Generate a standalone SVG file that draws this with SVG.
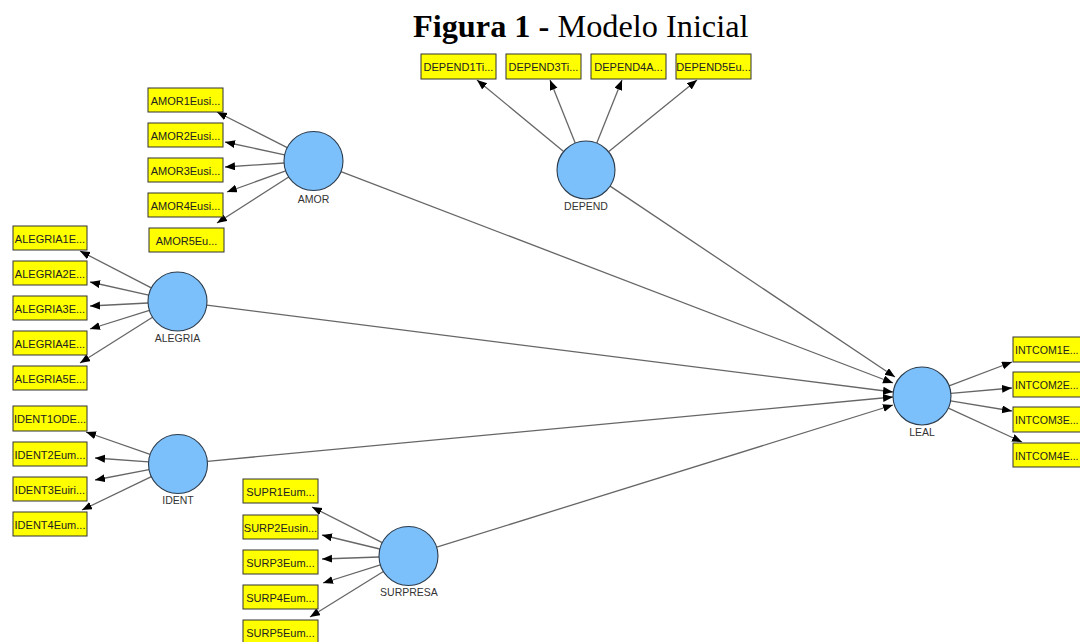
<svg xmlns="http://www.w3.org/2000/svg" width="1080" height="642" viewBox="0 0 1080 642">
<style>
.box{fill:#ffff00;stroke:#333;stroke-width:1}
.bt{font-family:"Liberation Sans",Arial,sans-serif;font-size:11px;fill:#222;text-anchor:middle}
.bs{font-family:"Liberation Sans",Arial,sans-serif;font-size:10.6px;fill:#222}
.lv{fill:#7bbffb;stroke:#2b3b4b;stroke-width:1.1}
.lb{font-family:"Liberation Sans",Arial,sans-serif;font-size:10.5px;fill:#333;text-anchor:middle}
.ln{stroke:#666;stroke-width:1.3;fill:none;marker-end:url(#ah)}
.ti{font-family:"Liberation Serif","Times New Roman",serif;font-size:32.3px;fill:#000}
</style>
<defs>
<marker id="ah" markerUnits="userSpaceOnUse" markerWidth="11" markerHeight="9" refX="10" refY="4" orient="auto">
<path d="M0,0 L10,4 L0,8 z" fill="#000"/>
</marker>
</defs>
<rect width="1080" height="642" fill="#fff"/>
<text class="ti" x="413" y="37"><tspan font-weight="bold">Figura 1 -</tspan> Modelo Inicial</text>

<g id="connectors">
<line class="ln" x1="563.6" y1="151.5" x2="477" y2="80"/>
<line class="ln" x1="575.2" y1="143.1" x2="550" y2="80"/>
<line class="ln" x1="596.8" y1="143.1" x2="622" y2="80"/>
<line class="ln" x1="608.5" y1="151.7" x2="697" y2="80"/>
<line class="ln" x1="287.2" y1="147.6" x2="217" y2="112"/>
<line class="ln" x1="284.6" y1="154.8" x2="225" y2="142"/>
<line class="ln" x1="284.1" y1="163" x2="225" y2="167"/>
<line class="ln" x1="285.7" y1="170.9" x2="227" y2="192"/>
<line class="ln" x1="288.7" y1="177" x2="217" y2="223"/>
<line class="ln" x1="151.3" y1="287.9" x2="80" y2="251"/>
<line class="ln" x1="148.7" y1="295.1" x2="90" y2="282"/>
<line class="ln" x1="148" y1="303" x2="90" y2="306"/>
<line class="ln" x1="149.4" y1="310.3" x2="90" y2="329"/>
<line class="ln" x1="152.5" y1="317.2" x2="80" y2="363"/>
<line class="ln" x1="150.1" y1="454.3" x2="86" y2="432"/>
<line class="ln" x1="148.6" y1="461.9" x2="95" y2="458"/>
<line class="ln" x1="149" y1="469.6" x2="95" y2="480"/>
<line class="ln" x1="151.4" y1="476.7" x2="82" y2="510"/>
<line class="ln" x1="382.2" y1="542.6" x2="312" y2="507"/>
<line class="ln" x1="379.8" y1="549" x2="322" y2="535"/>
<line class="ln" x1="379" y1="557" x2="322" y2="559"/>
<line class="ln" x1="380.4" y1="564.9" x2="323" y2="583"/>
<line class="ln" x1="383.4" y1="571.5" x2="310" y2="617"/>
<line class="ln" x1="949.1" y1="385.8" x2="1012" y2="362"/>
<line class="ln" x1="950.9" y1="393.4" x2="1012" y2="388"/>
<line class="ln" x1="950.6" y1="400.8" x2="1012" y2="411"/>
<line class="ln" x1="948.4" y1="408.1" x2="1022" y2="442"/>
<line class="ln" x1="610.1" y1="186.1" x2="895" y2="377"/>
<line class="ln" x1="341" y1="171.6" x2="893" y2="383"/>
<line class="ln" x1="206.8" y1="305.2" x2="893" y2="392"/>
<line class="ln" x1="207.4" y1="461.3" x2="893" y2="397"/>
<line class="ln" x1="436.7" y1="547.2" x2="893" y2="405"/>
</g>

<g id="DEPEND">
<circle class="lv" cx="586" cy="170" r="29"/>
<text class="lb" x="586" y="210">DEPEND</text>
</g>
<g id="DEPEND1"><rect class="box" x="421" y="54" width="75" height="25"/><text class="bt" x="458.5" y="71">DEPEND1Ti...</text></g>
<g id="DEPEND3"><rect class="box" x="506" y="54" width="75" height="25"/><text class="bt" x="543.5" y="71">DEPEND3Ti...</text></g>
<g id="DEPEND4"><rect class="box" x="591" y="54" width="75" height="25"/><text class="bt" x="628.5" y="71">DEPEND4A...</text></g>
<g id="DEPEND5"><rect class="box" x="676" y="54" width="75" height="25"/><text class="bt" x="713.5" y="71">DEPEND5Eu...</text></g>

<g id="AMOR">
<circle class="lv" cx="313.5" cy="161" r="29.5"/>
<text class="lb" x="313.5" y="203">AMOR</text>
</g>
<g id="AMOR1"><rect class="box" x="148" y="88" width="75" height="24"/><text class="bt" x="185.5" y="104.5">AMOR1Eusi...</text></g>
<g id="AMOR2"><rect class="box" x="148" y="123" width="75" height="24"/><text class="bt" x="185.5" y="139.5">AMOR2Eusi...</text></g>
<g id="AMOR3"><rect class="box" x="148" y="158" width="75" height="24"/><text class="bt" x="185.5" y="174.5">AMOR3Eusi...</text></g>
<g id="AMOR4"><rect class="box" x="148" y="193" width="75" height="24"/><text class="bt" x="185.5" y="209.5">AMOR4Eusi...</text></g>
<g id="AMOR5"><rect class="box" x="149" y="228" width="75" height="24"/><text class="bt" x="186.5" y="244.5">AMOR5Eu...</text></g>

<g id="ALEGRIA">
<circle class="lv" cx="177.5" cy="301.5" r="29.5"/>
<text class="lb" x="177.5" y="342">ALEGRIA</text>
</g>
<g id="ALEGRIA1"><rect class="box" x="13" y="226" width="74" height="24"/><text class="bt" x="50" y="242.5">ALEGRIA1E...</text></g>
<g id="ALEGRIA2"><rect class="box" x="13" y="261" width="74" height="24"/><text class="bt" x="50" y="277.5">ALEGRIA2E...</text></g>
<g id="ALEGRIA3"><rect class="box" x="13" y="296" width="74" height="24"/><text class="bt" x="50" y="312.5">ALEGRIA3E...</text></g>
<g id="ALEGRIA4"><rect class="box" x="13" y="331" width="74" height="24"/><text class="bt" x="50" y="347.5">ALEGRIA4E...</text></g>
<g id="ALEGRIA5"><rect class="box" x="13" y="366" width="74" height="24"/><text class="bt" x="50" y="382.5">ALEGRIA5E...</text></g>

<g id="IDENT">
<circle class="lv" cx="178" cy="464" r="29.5"/>
<text class="lb" x="178" y="504">IDENT</text>
</g>
<g id="IDENT1"><rect class="box" x="13" y="406" width="74" height="25"/><text class="bt" x="50" y="423">IDENT1ODE...</text></g>
<g id="IDENT2"><rect class="box" x="13" y="442" width="74" height="24"/><text class="bt" x="50" y="458.5">IDENT2Eum...</text></g>
<g id="IDENT3"><rect class="box" x="13" y="477" width="74" height="24"/><text class="bt" x="50" y="493.5">IDENT3Euiri...</text></g>
<g id="IDENT4"><rect class="box" x="13" y="512" width="74" height="24"/><text class="bt" x="50" y="528.5">IDENT4Eum...</text></g>

<g id="SURPRESA">
<circle class="lv" cx="408.5" cy="556" r="29.5"/>
<text class="lb" x="409" y="596">SURPRESA</text>
</g>
<g id="SURPR1"><rect class="box" x="243" y="479" width="75" height="24"/><text class="bt" x="280.5" y="495.5">SUPR1Eum...</text></g>
<g id="SURP2"><rect class="box" x="243" y="515" width="75" height="24"/><text class="bt" x="280.5" y="531.5">SURP2Eusin...</text></g>
<g id="SURP3"><rect class="box" x="243" y="550" width="75" height="24"/><text class="bt" x="280.5" y="566.5">SURP3Eum...</text></g>
<g id="SURP4"><rect class="box" x="243" y="585" width="75" height="24"/><text class="bt" x="280.5" y="601.5">SURP4Eum...</text></g>
<g id="SURP5"><rect class="box" x="243" y="620" width="75" height="24"/><text class="bt" x="280.5" y="636.5">SURP5Eum...</text></g>

<g id="LEAL">
<circle class="lv" cx="922" cy="396" r="29"/>
<text class="lb" x="922" y="436">LEAL</text>
</g>
<g id="INTCOM1"><rect class="box" x="1013" y="337" width="75" height="25"/><text class="bs" x="1015" y="354">INTCOM1E...</text></g>
<g id="INTCOM2"><rect class="box" x="1013" y="372" width="75" height="25"/><text class="bs" x="1015" y="389">INTCOM2E...</text></g>
<g id="INTCOM3"><rect class="box" x="1013" y="407" width="75" height="25"/><text class="bs" x="1015" y="424">INTCOM3E...</text></g>
<g id="INTCOM4"><rect class="box" x="1013" y="443" width="75" height="24"/><text class="bs" x="1015" y="459.5">INTCOM4E...</text></g>
</svg>
